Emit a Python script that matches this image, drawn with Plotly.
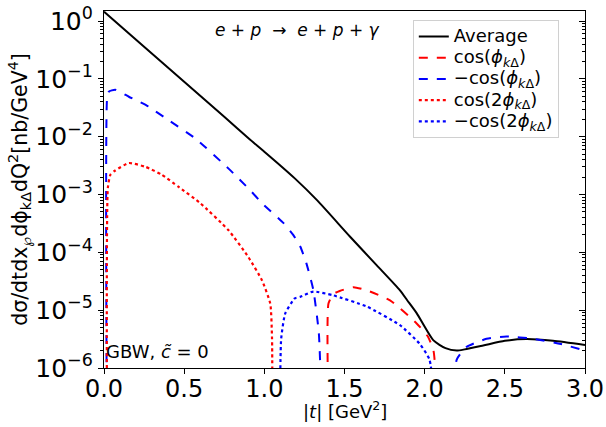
import plotly.graph_objects as go

# ---- data ----
t_avg = [0.0, 0.25, 0.5, 0.75, 0.91, 1.0, 1.19, 1.33, 1.535, 1.70, 1.846, 1.89, 1.95, 2.055, 2.13, 2.20, 2.25, 2.365, 2.50, 2.635, 2.80, 3.0]
v_avg = [1.45, 0.36, 0.089, 0.022, 8.9e-3, 5.5e-3, 1.9e-3, 7.9e-4, 1.86e-4, 6.0e-5, 2.2e-5, 1.5e-5, 8.9e-6, 3.0e-6, 2.2e-6, 2.0e-6, 2.1e-6, 2.45e-6, 2.95e-6, 3.16e-6, 2.95e-6, 2.5e-6]

t_cos1 = [1.398, 1.40, 1.43, 1.47, 1.556, 1.65, 1.784, 1.95, 2.02, 2.055, 2.077]
v_cos1 = [3e-7, 1.3e-5, 1.9e-5, 2.15e-5, 2.5e-5, 2.15e-5, 1.48e-5, 5.9e-6, 3.5e-6, 2.0e-6, 3e-7]

t_mcos1 = [0.017, 0.02, 0.03, 0.07, 0.155, 0.26, 0.40, 0.57, 0.777, 0.91, 0.985, 1.12, 1.18, 1.224, 1.262, 1.306, 1.34, 1.355,
           None, 2.185, 2.20, 2.26, 2.386, 2.51, 2.676, 2.85, 3.0]
v_mcos1 = [3e-7, 0.05, 0.060, 0.065, 0.049, 0.0355, 0.0195, 9.3e-3, 2.8e-3, 1.2e-3, 7.1e-4, 3.2e-4, 2.0e-4, 1.26e-4, 6.5e-5, 2.2e-5, 4e-6, 3e-7,
           None, 3e-7, 1.4e-6, 2.3e-6, 3.2e-6, 3.5e-6, 3.2e-6, 2.6e-6, 2.0e-6]

t_cos2 = [0.018, 0.024, 0.04, 0.07, 0.155, 0.26, 0.36, 0.466, 0.60, 0.777, 0.90, 0.985, 1.037, 1.048, 1.05]
v_cos2 = [3e-7, 1.3e-3, 2.2e-3, 2.6e-3, 3.5e-3, 3.0e-3, 2.2e-3, 1.35e-3, 7.1e-4, 2.4e-4, 8.3e-5, 3.3e-5, 1.3e-5, 3.2e-6, 3e-7]

t_mcos2 = [1.098, 1.105, 1.13, 1.19, 1.223, 1.306, 1.43, 1.64, 1.846, 1.97, 2.03, 2.06]
v_mcos2 = [3e-7, 3.2e-6, 8.7e-6, 1.6e-5, 1.7e-5, 2.1e-5, 1.8e-5, 1.15e-5, 5.5e-6, 2.6e-6, 1.4e-6, 3e-7]

x_ticks = [0.0, 0.5, 1.0, 1.5, 2.0, 2.5, 3.0]
x_tick_text = ["0.0", "0.5", "1.0", "1.5", "2.0", "2.5", "3.0"]
y_ticks = [1e-6, 1e-5, 1e-4, 1e-3, 1e-2, 1e-1, 1e0]
y_tick_text = ["10<sup>−6</sup>", "10<sup>−5</sup>", "10<sup>−4</sup>", "10<sup>−3</sup>",
               "10<sup>−2</sup>", "10<sup>−1</sup>", "10<sup>0</sup>"]
y_minor = [m * 10.0 ** e for e in range(-6, 1) for m in range(2, 10)]

FONT = "DejaVu Sans"
phi = "<i>ϕ</i><sub><i>k</i>Δ</sub>"


def big(s):
    return f"<span style='font-size:18px'>{s}</span>"


fig = go.Figure()
fig.add_trace(go.Scatter(x=t_avg, y=v_avg, mode="lines", name=big("Average"),
                         line=dict(color="black", width=2, shape="spline", smoothing=0.6)))
fig.add_trace(go.Scatter(x=t_cos1, y=v_cos1, mode="lines", name=big(f"cos({phi})"),
                         line=dict(color="red", width=2, dash="dash", shape="spline", smoothing=0.5)))
fig.add_trace(go.Scatter(x=t_mcos1, y=v_mcos1, mode="lines", name=big(f"−cos({phi})"),
                         line=dict(color="blue", width=2, dash="dash", shape="spline", smoothing=0.5),
                         connectgaps=False))
fig.add_trace(go.Scatter(x=t_cos2, y=v_cos2, mode="lines", name=big(f"cos(2{phi})"),
                         line=dict(color="red", width=2.2, dash="dot", shape="spline", smoothing=0.5)))
fig.add_trace(go.Scatter(x=t_mcos2, y=v_mcos2, mode="lines", name=big(f"−cos(2{phi})"),
                         line=dict(color="blue", width=2.2, dash="dot", shape="spline", smoothing=0.5)))
# invisible copy on the right-hand axis so that its inward ticks are drawn
fig.add_trace(go.Scatter(x=t_avg, y=v_avg, yaxis="y2", mode="lines", opacity=0,
                         showlegend=False, hoverinfo="skip"))

fig.update_layout(
    width=606, height=427,
    margin=dict(l=104, r=21, t=11, b=59, autoexpand=False),
    paper_bgcolor="white", plot_bgcolor="white",
    font=dict(family=FONT, color="black", size=16),
    xaxis=dict(range=[0, 3], tickvals=x_ticks, ticktext=x_tick_text,
               ticks="outside", ticklen=5, tickwidth=1.2, tickcolor="black",
               showline=True, linecolor="black", linewidth=1.2, mirror=True,
               showgrid=False, zeroline=False, tickfont=dict(size=24),
               ticklabeloverflow="allow", ticklabelstandoff=-6),
    yaxis=dict(type="log", range=[-6, 0.173], tickvals=y_ticks, ticktext=y_tick_text,
               ticks="outside", ticklen=5, tickwidth=1.2, tickcolor="black",
               minor=dict(tickvals=y_minor, ticks="outside", ticklen=3, tickcolor="black", showgrid=False),
               showline=True, linecolor="black", linewidth=1.2, mirror=True,
               showgrid=False, zeroline=False, tickfont=dict(size=25),
               ticklabeloverflow="allow",
               title=dict(text="dσ/dtdx<sub>℘</sub>dϕ<sub>kΔ</sub>dQ<sup>2</sup>[nb/GeV<sup>4</sup>]",
                          font=dict(size=20.5), standoff=2)),
    yaxis2=dict(type="log", range=[-6, 0.173], overlaying="y", side="right",
                tickvals=y_ticks, ticks="inside", ticklen=6, tickcolor="black", showticklabels=False,
                minor=dict(tickvals=y_minor, ticks="inside", ticklen=3, tickcolor="black", showgrid=False),
                showgrid=False, zeroline=False, showline=False),
    legend=dict(x=0.642, y=0.975, xanchor="left", yanchor="top",
                bgcolor="rgba(255,255,255,0.8)", bordercolor="#d0d0d0", borderwidth=1,
                font=dict(size=14), tracegroupgap=0),
    showlegend=True,
    annotations=[
        dict(text="<i>e</i> + <i>p</i>  →  <i>e</i> + <i>p</i> + <i>γ</i>", xref="paper", yref="paper",
             x=0.403, y=0.948, showarrow=False, font=dict(size=17), xanchor="center", yanchor="middle"),
        dict(text="GBW, <i>c̃</i> = 0", xref="paper", yref="paper",
             x=0.0, y=0.046, showarrow=False, font=dict(size=18), xanchor="left", yanchor="middle"),
        dict(text="|<i>t</i>| [GeV<sup>2</sup>]", xref="paper", yref="paper",
             x=0.5, y=-0.118, showarrow=False, font=dict(size=18), xanchor="center", yanchor="middle"),
    ],
)

# remove the browser's default 8px body margin so the figure sits at the window's corner
fig.write_html("out.html", config={"displayModeBar": False},
               post_script="document.body.style.margin='0';")
